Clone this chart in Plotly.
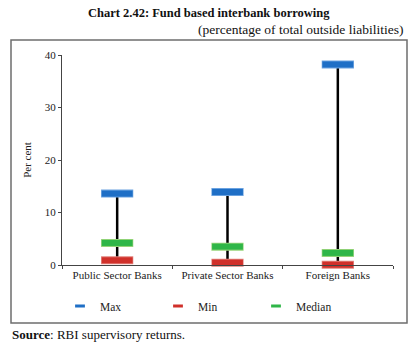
import plotly.graph_objects as go

categories = ["Public Sector Banks", "Private Sector Banks", "Foreign Banks"]
max_vals = [13.6, 13.9, 38.2]
min_vals = [0.9, 0.45, 0.05]
median_vals = [4.2, 3.5, 2.3]
y_ticks = [0, 10, 20, 30, 40]

FONT = "Liberation Serif"
W, H = 419, 343
L, R, T, B = 62, 26, 55, 78
pw, ph = W - L - R, H - T - B

def px_x(p):
    return (p - L) / pw

def px_y(p):
    return (H - B - p) / ph

fig = go.Figure()

# high-low lines
hx, hy = [], []
for c, lo, hi in zip(categories, min_vals, max_vals):
    hx += [c, c, None]
    hy += [lo, hi, None]
fig.add_trace(go.Scatter(x=hx, y=hy, mode="lines", line=dict(color="black", width=2.5),
                         showlegend=False, hoverinfo="skip", cliponaxis=False))

series = [
    ("Max", max_vals, "#1f6fc6", "#6aa2e0"),
    ("Min", min_vals, "#d0302a", "#e2807a"),
    ("Median", median_vals, "#2fb648", "#96d47a"),
]
for name, vals, col, edge in series:
    fig.add_trace(go.Scatter(x=categories, y=vals, mode="markers",
                             marker=dict(symbol="line-ew", size=23, line=dict(width=8, color=edge)),
                             showlegend=False, hoverinfo="skip", cliponaxis=False))
    fig.add_trace(go.Scatter(x=categories, y=vals, mode="markers", name=name,
                             marker=dict(symbol="line-ew", size=22, color=col, line=dict(width=6, color=col)),
                             showlegend=False, cliponaxis=False))
    # legend entry with a short swatch
    fig.add_trace(go.Scatter(x=[None], y=[None], mode="markers", name=name,
                             marker=dict(symbol="line-ew", size=7, color=col, line=dict(width=3, color=col))))

fig.update_layout(
    width=W, height=H,
    margin=dict(l=L, r=R, t=T, b=B),
    paper_bgcolor="white", plot_bgcolor="white",
    font=dict(family=FONT, size=11, color="#222222"),
    showlegend=True,
    legend=dict(orientation="h", x=px_x(60), y=px_y(306), xanchor="left", yanchor="middle",
                itemsizing="trace", entrywidth=53, font=dict(size=11.5, family=FONT),
                bgcolor="rgba(0,0,0,0)", tracegroupgap=0),
    xaxis=dict(type="category", range=[-0.5, 2.5], showline=True, linecolor="#444444", linewidth=1,
               ticks="outside", tickson="boundaries", ticklen=3, tickcolor="#444444",
               showgrid=False, zeroline=False, tickfont=dict(size=11, family=FONT)),
    yaxis=dict(range=[0, 40], tickvals=y_ticks, showline=True, linecolor="#444444", linewidth=1,
               ticks="outside", ticklen=3, tickcolor="#444444", showgrid=False, zeroline=False,
               title=dict(text="Per cent", font=dict(size=11, family=FONT), standoff=10),
               tickfont=dict(size=11, family=FONT)),
    shapes=[dict(type="rect", xref="paper", yref="paper",
                 x0=px_x(11), x1=px_x(407), y0=px_y(323), y1=px_y(40),
                 line=dict(color="#6e6e6e", width=1.5), fillcolor="rgba(0,0,0,0)", layer="below")],
    annotations=[
        dict(text="<b>Chart 2.42: Fund based interbank borrowing</b>", xref="paper", yref="paper",
             x=px_x(209), y=px_y(13), xanchor="center", yanchor="middle", showarrow=False,
             font=dict(size=12.5, family=FONT, color="#111111")),
        dict(text="(percentage of total outside liabilities)", xref="paper", yref="paper",
             x=px_x(405), y=px_y(30), xanchor="right", yanchor="middle", showarrow=False,
             font=dict(size=13.5, family=FONT, color="#111111")),
        dict(text="<b>Source</b>: RBI supervisory returns.", xref="paper", yref="paper",
             x=px_x(10), y=px_y(334), xanchor="left", yanchor="middle", showarrow=False,
             font=dict(size=13, family=FONT, color="#111111")),
    ],
)

fig.write_html("out.html")
